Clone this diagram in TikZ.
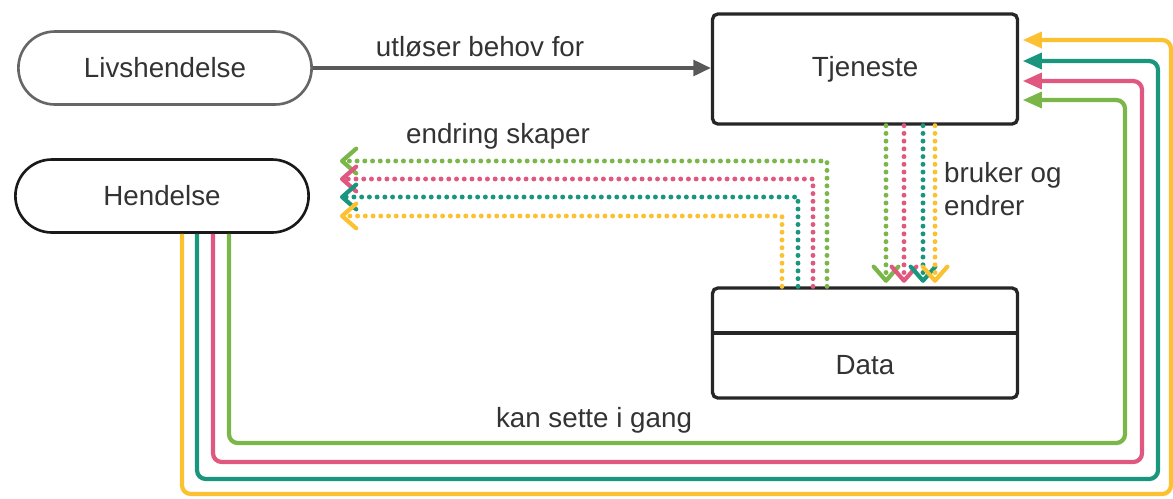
\documentclass[tikz,border=0pt]{standalone}
\usepackage{fontspec}
\setmainfont{Liberation Sans}
\usetikzlibrary{arrows.meta,shapes.misc,positioning}
\definecolor{lgreen}{HTML}{7AB648}
\definecolor{lpink}{HTML}{E0587F}
\definecolor{lteal}{HTML}{19967D}
\definecolor{lyellow}{HTML}{FBC130}
\definecolor{ink}{HTML}{333333}

\begin{document}
\begin{tikzpicture}[x=0.02cm, y=-0.02cm,
    every node/.style = { font = \fontsize{15.8pt}{19pt}\selectfont, text = ink },
    pill/.style = { draw, shape = rounded rectangle, line width = 1.5pt, minimum width = 6.1cm, minimum height = 1.46cm },
    box/.style = { draw = black!85, rounded corners = 3pt, line width = 1.9pt, minimum width = 6.1cm, minimum height = 2.2cm },
    flow/.style = { line width = 2.4pt, rounded corners = 5pt, shorten > = 2pt, -{Triangle[length = 11pt, width = 9pt]} },
    uses/.style = { line width = 2.8pt, line cap = round, dash pattern = on 0pt off 4.4pt,
      -{Straight Barb[round, length = 8pt, width = 14pt, line width = 2.4pt]} }]
  \useasboundingbox (0,0) rectangle (1173,498);

  \node [pill, draw = black!60] (liv) at (165,68) { Livshendelse };
  \node [pill, draw = black!90] (hend) at (162,196) { Hendelse };
  \node [box] (tj) at (865,69) { Tjeneste };
  \node [box] (data) at (865,343) {};
  \draw [line width = 1.9pt, draw = black!85] (data.west |- 0,333) -- (data.east |- 0,333);
  \node at (865,365) { Data };

  \draw [line width = 2pt, draw = black!65, -{Triangle[length = 10pt, width = 9pt]}]
    (liv.east) -- (tj.west |- liv.east) node [pos = .42, above = 2pt] { utløser behov for };

  \foreach \c/\x/\y in {lgreen/827/161, lpink/813/179, lteal/798/197, lyellow/782/216}
    \draw [uses, draw = \c] (data.north -| \x,0) |- (340,\y);
  \node at (498,136) { endring skaper };

  \foreach \c/\x in {lgreen/886, lpink/904, lteal/923, lyellow/935}
    \draw [uses, draw = \c, shorten > = 2pt] (tj.south -| \x,0) -- (data.north -| \x,0);
  \node [anchor = west, align = left] at (938,189) { bruker og \\ endrer };

  \foreach \c/\x/\b/\r/\t in {lgreen/229/443/1125/100, lpink/213/462/1142/81,
      lteal/197/479/1158/61, lyellow/182/494/1171/40}
    \draw [flow, draw = \c] (hend.south -| \x,0) |- (\r,\b) |- (tj.east |- 0,\t);
  \node at (594,420) { kan sette i gang };
\end{tikzpicture}
\end{document}
